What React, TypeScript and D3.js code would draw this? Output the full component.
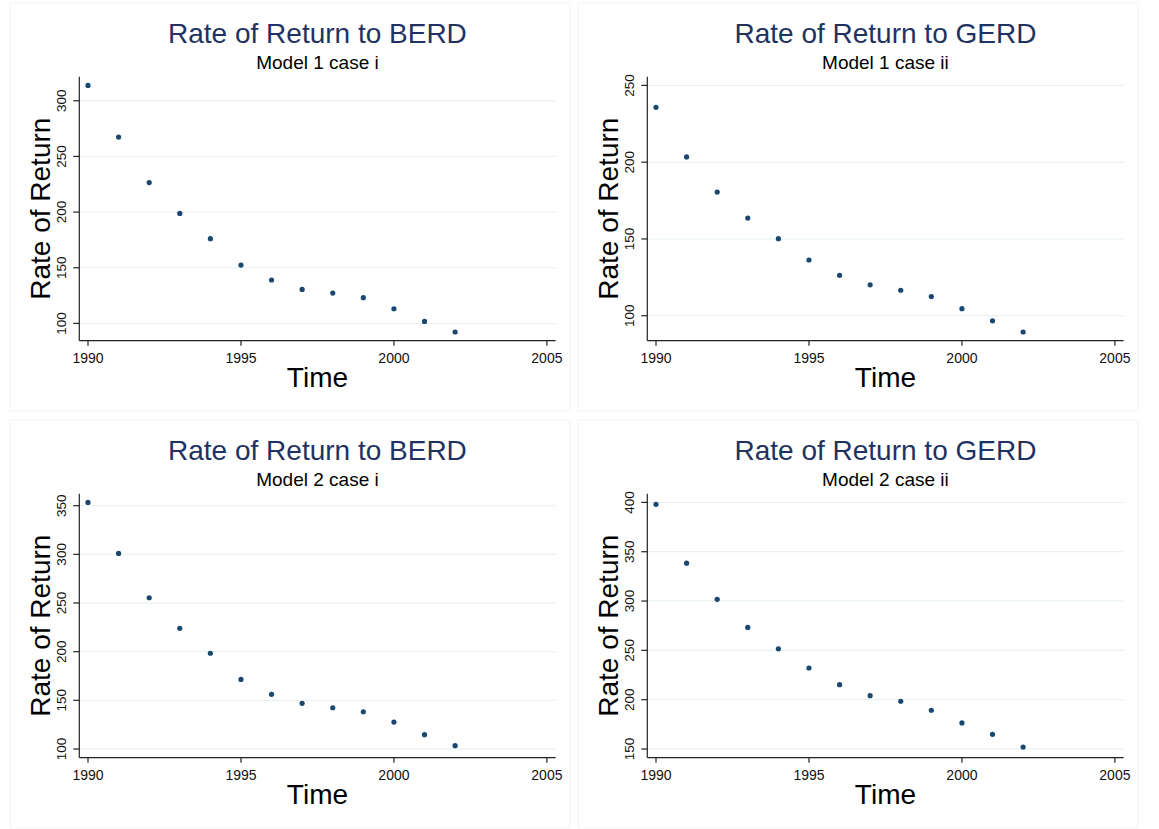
import React from "react";
import * as d3 from "d3";

const years = [1990, 1991, 1992, 1993, 1994, 1995, 1996, 1997, 1998, 1999, 2000, 2001, 2002];
const berdModel1 = [313.8, 267.4, 226.5, 198.8, 176.1, 152.4, 139.0, 130.5, 127.3, 123.1, 113.2, 101.8, 92.3];
const gerdModel1 = [235.7, 203.4, 180.5, 163.6, 150.2, 136.3, 126.3, 120.1, 116.6, 112.5, 104.6, 96.7, 89.4];
const berdModel2 = [353.4, 301.0, 255.4, 224.0, 198.4, 171.5, 156.2, 146.9, 142.4, 138.3, 127.7, 114.7, 103.4];
const gerdModel2 = [398.0, 338.4, 301.7, 273.3, 251.6, 232.1, 215.2, 204.1, 198.4, 189.3, 176.4, 164.9, 152.0];

const xTicks = [1990, 1995, 2000, 2005];
const yTicksA = [100, 150, 200, 250, 300];
const yTicksB = [100, 150, 200, 250];
const yTicksC = [100, 150, 200, 250, 300, 350];
const yTicksD = [150, 200, 250, 300, 350, 400];

const titles = ["Rate of Return to BERD", "Rate of Return to GERD", "Rate of Return to BERD", "Rate of Return to GERD"];
const subtitles = ["Model 1 case i", "Model 1 case ii", "Model 2 case i", "Model 2 case ii"];
const yTitle = "Rate of Return";
const xTitle = "Time";

const panels = [
  { ox: 10, oy: 3, values: berdModel1, yTicks: yTicksA },
  { ox: 578, oy: 3, values: gerdModel1, yTicks: yTicksB },
  { ox: 10, oy: 420, values: berdModel2, yTicks: yTicksC },
  { ox: 578, oy: 420, values: gerdModel2, yTicks: yTicksD },
];

const FONT = "'Liberation Sans', Arial, Helvetica, sans-serif";
const TITLE_COLOR = "#1f3262";
const DOT_COLOR = "#1a476f";
const GRID_COLOR = "#e4eef0";
const BORDER_COLOR = "#eff4f5";
const PW = 560;
const PH = 408;
const PAD = 8.7;

function Panel({ idx }: { idx: number }) {
  const p = panels[idx];
  const left = p.ox + 69.3;
  const right = p.ox + 545.6;
  const top = p.oy + 73.7;
  const bottom = p.oy + 337.7;
  const xExt = d3.extent([...years, ...xTicks]) as [number, number];
  const yExt = d3.extent([...p.values, ...p.yTicks]) as [number, number];
  const x = d3.scaleLinear().domain(xExt).range([left + PAD, right - PAD]);
  const y = d3.scaleLinear().domain(yExt).range([bottom - PAD, top + PAD]);
  const cx = (left + right) / 2;
  const cy = (top + bottom) / 2;
  return (
    <g>
      <rect x={p.ox} y={p.oy} width={PW} height={PH} fill="#ffffff" stroke={BORDER_COLOR} strokeWidth={1} />
      {p.yTicks.map((t) => (
        <line key={"g" + t} x1={left} x2={right} y1={y(t)} y2={y(t)} stroke={GRID_COLOR} strokeWidth={1} />
      ))}
      <line x1={left} x2={left} y1={top} y2={bottom} stroke="#222" strokeWidth={1.2} />
      <line x1={left} x2={right} y1={bottom} y2={bottom} stroke="#222" strokeWidth={1.2} />
      {p.yTicks.map((t) => (
        <g key={"y" + t}>
          <line x1={left - 6} x2={left} y1={y(t)} y2={y(t)} stroke="#222" strokeWidth={1.2} />
          <text
            transform={`translate(${left - 13.5},${y(t)}) rotate(-90)`}
            textAnchor="middle"
            fontSize={13.5}
            fontFamily={FONT}
            fill="#111"
          >
            {t}
          </text>
        </g>
      ))}
      {xTicks.map((t) => (
        <g key={"x" + t}>
          <line x1={x(t)} x2={x(t)} y1={bottom} y2={bottom + 5} stroke="#222" strokeWidth={1.2} />
          <text x={x(t)} y={bottom + 22} textAnchor="middle" fontSize={14} fontFamily={FONT} fill="#111">
            {t}
          </text>
        </g>
      ))}
      {years.map((yr, i) => (
        <circle key={"d" + yr} cx={x(yr)} cy={y(p.values[i])} r={2.6} fill={DOT_COLOR} />
      ))}
      <text x={cx} y={p.oy + 40} textAnchor="middle" fontSize={28} fontFamily={FONT} fill={TITLE_COLOR}>
        {titles[idx]}
      </text>
      <text x={cx} y={p.oy + 66} textAnchor="middle" fontSize={19} fontFamily={FONT} fill="#000">
        {subtitles[idx]}
      </text>
      <text
        transform={`translate(${p.ox + 40},${cy}) rotate(-90)`}
        textAnchor="middle"
        fontSize={28}
        fontFamily={FONT}
        fill="#000"
      >
        {yTitle}
      </text>
      <text x={cx} y={p.oy + 383.7} textAnchor="middle" fontSize={28} fontFamily={FONT} fill="#000">
        {xTitle}
      </text>
    </g>
  );
}

export default function App() {
  return (
    <svg
      width={1159}
      height={829}
      style={{ position: "absolute", left: 0, top: 0, background: "#ffffff" }}
    >
      <rect x={0} y={0} width={1159} height={829} fill="#ffffff" />
      {panels.map((_, i) => (
        <Panel key={i} idx={i} />
      ))}
    </svg>
  );
}
